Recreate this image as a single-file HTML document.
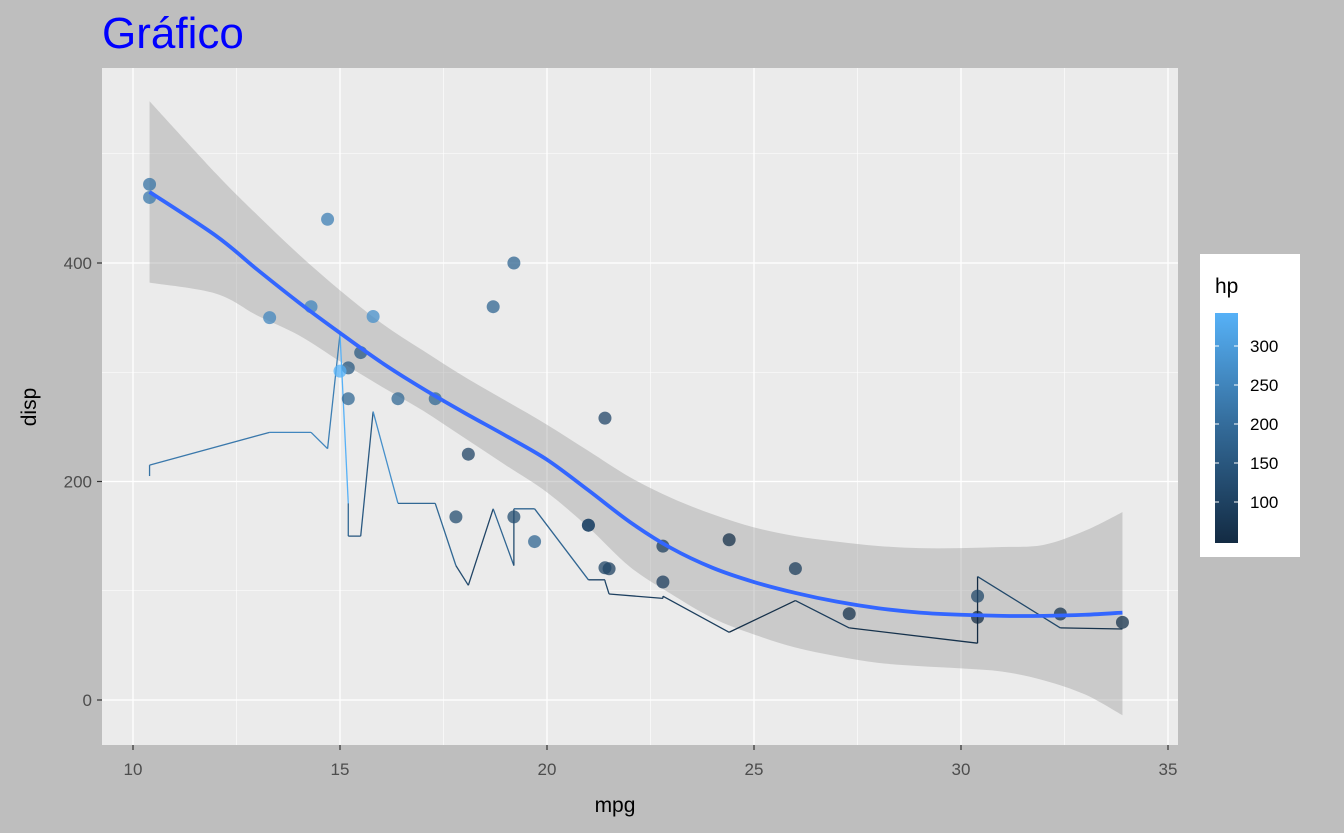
<!DOCTYPE html>
<html><head><meta charset="utf-8"><style>
body{margin:0;background:#BEBEBE;}
svg{display:block;font-family:"Liberation Sans",sans-serif;}
</style></head><body>
<svg id="chart" width="1344" height="833">
<rect x="0" y="0" width="1344" height="833" fill="#BEBEBE"/>
<text x="102" y="48" font-size="44" fill="#0000FF">Gráfico</text>
<rect x="102" y="68" width="1076" height="677" fill="#EBEBEB"/>
<g id="grid"></g>
<g id="ribbon"></g>
<g id="lines"></g>
<g id="points"></g>
<g id="smooth"></g>
<g id="axes"></g>
<text x="615" y="812" font-size="21" text-anchor="middle" fill="#000">mpg</text>
<text transform="translate(36,407) rotate(-90)" font-size="21" text-anchor="middle" fill="#000">disp</text>
<g>
<rect x="1200" y="254" width="100" height="303" fill="#fff"/>
<text x="1215" y="293" font-size="21" fill="#000">hp</text>
<defs><linearGradient id="cg" x1="0" y1="1" x2="0" y2="0"><stop offset="0" stop-color="#132B43"/><stop offset="0.5" stop-color="#336A98"/><stop offset="1" stop-color="#56B1F7"/></linearGradient></defs>
<rect x="1215" y="313" width="23" height="230" fill="url(#cg)"/>
<g id="legticks"></g>
</g>
</svg>
<script>
const mpg=[21.0,21.0,22.8,21.4,18.7,18.1,14.3,24.4,22.8,19.2,17.8,16.4,17.3,15.2,10.4,10.4,14.7,32.4,30.4,33.9,21.5,15.5,15.2,13.3,19.2,27.3,26.0,30.4,15.8,19.7,15.0,21.4];
const disp=[160,160,108,258,360,225,360,146.7,140.8,167.6,167.6,275.8,275.8,275.8,472,460,440,78.7,75.7,71.1,120.1,318,304,350,400,79,120.3,95.1,351,145,301,121];
const hp=[110,110,93,110,175,105,245,62,95,123,123,180,180,180,205,215,230,66,52,65,97,150,150,245,175,66,91,113,264,175,335,109];
const smX=[10.4,12,13,14,15,16,17,18,19,20,21,22,23,24,25,26,27,28,29,30,31,32,33,33.9];
const smFit=[465,425,394,364,336,309,285,263,242,220,192,163,139,121,108,98,90,84,80,78,77,77,78,80];
const smHi=[548,482,444,408,375,345,320,296,274,252,228,204,185,170,158,150,145,141,139,139,140,142,155,172];
const smLo=[382,372,352,334,310,287,265,240,215,190,158,122,97,75,60,48,40,34,31,29,26,18,5,-14];
const xTicks=[10,15,20,25,30,35];
const yTicks=[0,200,400];
const legTicks=[100,150,200,250,300];
const NS="http://www.w3.org/2000/svg";
const X=v=>133+(v-10)*41.4;
const Y=v=>700-v*1.0925;
const L=v=>502-(v-100)*0.78;
function mk(t,a,p){const e=document.createElementNS(NS,t);for(const k in a)e.setAttribute(k,a[k]);p.appendChild(e);return e;}
function col(h){let t=(h-52)/(335-52);t=Math.max(0,Math.min(1,t));
const a=[0x13,0x2B,0x43],b=[0x56,0xB1,0xF7];return `rgb(${a.map((c,i)=>Math.round(c+(b[i]-c)*t)).join(',')})`;}
function spline(pts){let d='M'+pts[0][0]+','+pts[0][1];
for(let i=0;i<pts.length-1;i++){const p0=pts[Math.max(0,i-1)],p1=pts[i],p2=pts[i+1],p3=pts[Math.min(pts.length-1,i+2)];
d+=`C${p1[0]+(p2[0]-p0[0])/6},${p1[1]+(p2[1]-p0[1])/6} ${p2[0]-(p3[0]-p1[0])/6},${p2[1]-(p3[1]-p1[1])/6} ${p2[0]},${p2[1]}`;}
return d;}
const grid=document.getElementById('grid');
[12.5,17.5,22.5,27.5,32.5].forEach(v=>{const e=mk('line',{x1:X(v),x2:X(v),y1:68,y2:745,stroke:'#fff','stroke-width':0.6},grid);
});
[100,300,500].forEach(v=>{const e=mk('line',{x1:102,x2:1178,y1:Y(v),y2:Y(v),stroke:'#fff','stroke-width':0.6},grid);
});
const axes=document.getElementById('axes');
xTicks.forEach(v=>{const e=mk('line',{x1:X(v),x2:X(v),y1:68,y2:745,stroke:'#fff','stroke-width':1.3},grid);

const t=mk('line',{x1:X(v),x2:X(v),y1:745,y2:750,stroke:'#333','stroke-width':1.2},axes);

const l=mk('text',{x:X(v),y:775,'font-size':17,'text-anchor':'middle',fill:'#4D4D4D'},axes);l.textContent=v;
});
yTicks.forEach(v=>{const e=mk('line',{x1:102,x2:1178,y1:Y(v),y2:Y(v),stroke:'#fff','stroke-width':1.3},grid);

const t=mk('line',{x1:97,x2:102,y1:Y(v),y2:Y(v),stroke:'#333','stroke-width':1.2},axes);

const l=mk('text',{x:92,y:Y(v)+6,'font-size':17,'text-anchor':'end',fill:'#4D4D4D'},axes);l.textContent=v;
});
const hiPts=smX.map((x,i)=>[X(x),Y(smHi[i])]);
const loPts=smX.map((x,i)=>[X(x),Y(smLo[i])]).reverse();
let d=spline(hiPts)+'L'+spline(loPts).slice(1)+'Z';
const rb=mk('path',{d:d,fill:'#999999','fill-opacity':0.4},document.getElementById('ribbon'));

const idx=mpg.map((v,i)=>i).sort((a,b)=>mpg[a]-mpg[b]||a-b);
const lg=document.getElementById('lines');
for(let k=0;k<idx.length-1;k++){const i=idx[k],j=idx[k+1];
const e=mk('line',{x1:X(mpg[i]),y1:Y(hp[i]),x2:X(mpg[j]),y2:Y(hp[j]),stroke:col(hp[i]),'stroke-width':1.3},lg);
}
const pg=document.getElementById('points');
mpg.forEach((v,i)=>{const e=mk('circle',{cx:X(v),cy:Y(disp[i]),r:6.5,fill:col(hp[i]),'fill-opacity':0.75},pg);
});
const sm=mk('path',{d:spline(smX.map((x,i)=>[X(x),Y(smFit[i])])),fill:'none',stroke:'#3366FF','stroke-width':3.8,'stroke-linejoin':'round'},document.getElementById('smooth'));

const lt=document.getElementById('legticks');
legTicks.forEach(v=>{[[1215,1219],[1234,1238]].forEach(p=>{const e=mk('line',{x1:p[0],x2:p[1],y1:L(v),y2:L(v),stroke:'#fff','stroke-width':1},lt);
});
const l=mk('text',{x:1250,y:L(v)+6,'font-size':17,fill:'#000'},lt);l.textContent=v;
});
</script>
</body></html>
